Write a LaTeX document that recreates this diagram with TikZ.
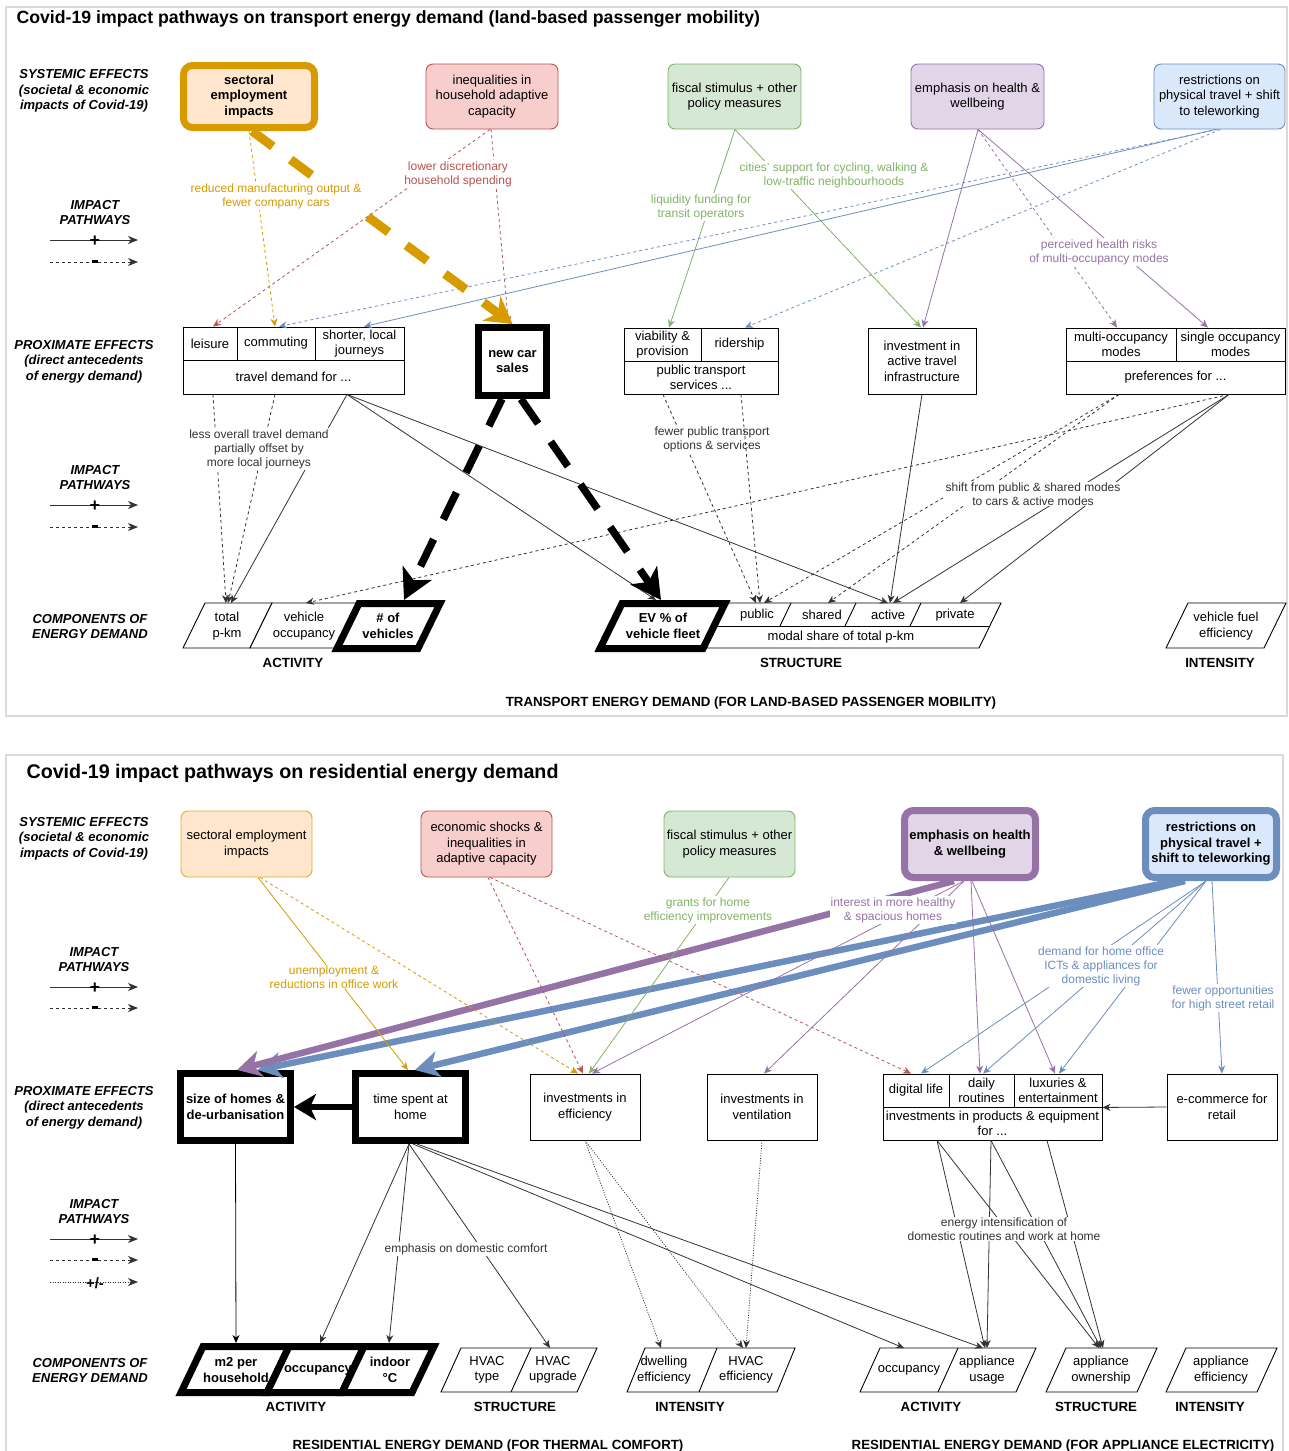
\documentclass[tikz,border=0pt]{standalone}
\usepackage{fontspec}
\setmainfont{Liberation Sans}
\usetikzlibrary{arrows.meta,calc}
\definecolor{orS}{HTML}{D79B00}\definecolor{orF}{HTML}{FFE6CC}
\definecolor{rdS}{HTML}{B85450}\definecolor{rdF}{HTML}{F8CECC}
\definecolor{grS}{HTML}{82B366}\definecolor{grF}{HTML}{D5E8D4}
\definecolor{puS}{HTML}{9673A6}\definecolor{puF}{HTML}{E1D5E7}
\definecolor{blS}{HTML}{6C8EBF}\definecolor{blF}{HTML}{DAE8FC}
\definecolor{panelc}{HTML}{DADADA}
\definecolor{lnk}{HTML}{333333}
\newcommand{\bxf}{\fontsize{13}{15.5}\selectfont}
\newcommand{\bxbf}{\fontsize{13}{15.5}\selectfont\bfseries}
\newcommand{\lbf}{\fontsize{12}{14}\selectfont}
\newcommand{\sidef}{\fontsize{13}{15.5}\selectfont\bfseries\itshape}
\newcommand{\capf}{\fontsize{13.3}{15}\selectfont\bfseries}
\newcommand{\ttlf}{\fontsize{17.7}{20}\selectfont\bfseries}
\newcommand{\ttlbf}{\fontsize{19.7}{22}\selectfont\bfseries}
\newcommand{\BoxAt}[6][]{\node[#1,minimum width={#4-#2},minimum height={#5-#3}] (#6) at ({(#2+#4)/2},{(#3+#5)/2})}
\newcommand{\PG}[6][]{\draw[#1] (#2,#4) -- (#3,#4) -- ({#3-#6},#5) -- ({#2-#6},#5) -- cycle;}
\newcommand{\LegArrow}[4]{%
  \coordinate (#1a) at (50,#2); \coordinate (#1b) at (138,#2);
  \draw[lnk, line width=0.9pt, -{Stealth[length=10pt,width=8pt,inset=3pt]}, #3] (#1a) -- (#1b);
  \node[font=\bfseries\fontsize{18}{18}\selectfont, inner sep=0pt] (#1s) at (95,#2+1) {#4};}
\newcommand{\minusbar}{\rule[3.5pt]{6pt}{3pt}}
\tikzset{
  bx/.style={draw, rectangle, align=center, inner sep=1pt, font=\bxf, line width=0.9pt, fill=white},
  sysb/.style={bx, rounded corners=7pt},
  thk/.style={line width=7pt},
  lbl/.style={font=\lbf, align=center, fill=white, inner sep=1pt},
  txt/.style={font=\bxf, align=center, inner sep=0pt},
  txtb/.style={font=\bxbf, align=center, inner sep=0pt},
  side/.style={font=\sidef, align=center},
  capl/.style={font=\capf},
  pg/.style={line width=0.9pt, fill=white},
  ln/.style={line width=0.8pt, -{Stealth[length=8pt,width=7pt,inset=2.5pt]}},
  dsh/.style={dash pattern=on 3pt off 3pt},
  dtt/.style={dash pattern=on 1pt off 1.5pt},
}
\begin{document}
\begin{tikzpicture}[x=1pt,y=-1pt]
\useasboundingbox (0,0) rectangle (1288,1451);
\fill[white] (0,0) rectangle (1288,1451);
% panels
\draw[panelc, line width=1.5pt] (6,7) rectangle (1287,716);
\draw[panelc, line width=1.5pt] (6,1480) -- (6,755) -- (1283,755) -- (1283,1480);
\node[anchor=west, font=\ttlf] (t1) at (13,19) {Covid-19 impact pathways on transport energy demand (land-based passenger mobility)};
\node[anchor=west, font=\ttlbf] (t2) at (23,773) {Covid-19 impact pathways on residential energy demand};

% ---------- TOP PANEL side labels ----------
\node[side] (s1) at (84,91) {SYSTEMIC EFFECTS\\(societal \& economic\\impacts of Covid-19)};
\node[side] (s2) at (95,212.5) {IMPACT\\PATHWAYS};
\LegArrow{lga}{240}{}{+}
\LegArrow{lgb}{262}{dsh}{\minusbar}
\node[side] (s3) at (84,361.5) {PROXIMATE EFFECTS\\(direct antecedents\\of energy demand)};
\node[side] (s4) at (95,477.5) {IMPACT\\PATHWAYS};
\LegArrow{lgc}{505}{}{+}
\LegArrow{lgd}{527}{dsh}{\minusbar}
\node[side] (s5) at (90,626.5) {COMPONENTS OF\\ENERGY DEMAND};

% ---------- TOP PANEL boxes ----------
\BoxAt[sysb, thk, draw=orS, fill=orF, font=\bxbf, rounded corners=9pt]{183.5}{65.5}{314.5}{127.5}{sect1} {sectoral\\employment\\impacts};
\BoxAt[sysb, draw=rdS, fill=rdF]{426}{64}{558}{129}{ineq1} {inequalities in\\household adaptive\\capacity};
\BoxAt[sysb, draw=grS, fill=grF]{668}{64}{801}{129}{fisc1} {fiscal stimulus + other\\policy measures};
\BoxAt[sysb, draw=puS, fill=puF]{911}{64}{1044}{129}{emph1} {emphasis on health \&\\wellbeing};
\BoxAt[sysb, draw=blS, fill=blF]{1154}{64}{1285}{129}{restr1} {restrictions on\\physical travel + shift\\to teleworking};

\BoxAt[bx]{183}{327}{237}{360}{leis} {leisure};
\BoxAt[bx]{237}{327}{315}{360}{comm} {commuting};
\BoxAt[bx]{315}{327}{404}{360}{short} {shorter, local\\journeys};
\BoxAt[bx]{183}{360}{404}{394}{trav} {travel demand for ...};
\BoxAt[bx, thk, font=\bxbf]{478.5}{327.5}{546.5}{395.5}{newcar} {new car\\sales};
\BoxAt[bx]{624}{328}{701}{361}{via} {viability \&\\provision};
\BoxAt[bx]{701}{328}{778}{361}{rider} {ridership};
\BoxAt[bx]{624}{361}{778}{394}{pts} {public transport\\services ...};
\BoxAt[bx]{868}{328}{976}{394}{inv} {investment in\\active travel\\infrastructure};
\BoxAt[bx]{1066}{328}{1176}{361}{multi} {multi-occupancy\\modes};
\BoxAt[bx]{1176}{328}{1285}{361}{single} {single occupancy\\modes};
\BoxAt[bx]{1066}{361}{1285}{394}{pref} {preferences for ...};

% ---------- TOP PANEL components ----------
\PG[pg]{205}{272}{603}{648}{22}
\PG[pg]{272}{359}{603}{648}{22}
\PG[pg]{725}{1001}{603}{648}{22}
\draw[line width=0.9pt] (714,626) -- (990,626);
\draw[line width=0.9pt] (791,603) -- (780,626);
\draw[line width=0.9pt] (856,603) -- (845,626);
\draw[line width=0.9pt] (921,603) -- (910,626);
\PG[pg, thk]{359}{440}{603.5}{648.5}{22}
\PG[pg, thk]{622}{725}{603.5}{648.5}{22}
\PG[pg]{1188}{1286}{603}{648}{22}
\node[txt] (tpkm) at (227,626) {total\\p-km};
\node[txt] (vocc) at (304,626) {vehicle\\occupancy};
\node[txtb] (nveh) at (388,626) {\# of\\vehicles};
\node[txtb] (evf) at (663,626) {EV \% of\\vehicle fleet};
\node[txt] (pub) at (757,615) {public};
\node[txt] (shr) at (822,615) {shared};
\node[txt] (act) at (888,615) {active};
\node[txt] (priv) at (955,615) {private};
\node[txt] (modal) at (841,637) {modal share of total p-km};
\node[txt] (vfe) at (1226,626) {vehicle fuel\\efficiency};
\node[capl] (c1) at (293,663) {ACTIVITY};
\node[capl] (c2) at (801,663) {STRUCTURE};
\node[capl] (c3) at (1220,663) {INTENSITY};
\node[capl] (c4) at (751,703) {TRANSPORT ENERGY DEMAND (FOR LAND-BASED PASSENGER MOBILITY)};

\coordinate (tpkmA) at (226,603); \coordinate (tpkmB) at (228,603); \coordinate (tpkmC) at (231,603);
\coordinate (voccT) at (306,603);
\coordinate (nvehT) at (404,600);
\coordinate (evA) at (656,600); \coordinate (evB) at (661,600);
\coordinate (pubA) at (756,603); \coordinate (pubB) at (760,603); \coordinate (pubC) at (764,603);
\coordinate (shrT) at (828,603);
\coordinate (actA) at (888,603); \coordinate (actB) at (890,603); \coordinate (actC) at (893,603);
\coordinate (privT) at (960,603);

% ---------- TOP PANEL connectors ----------
\draw[ln, dsh, draw=orS] (sect1.south) -- ([xshift=-1pt]comm.north);
\draw[ln, dsh, draw=rdS] ([xshift=-2pt]ineq1.south) -- ([xshift=3pt]leis.north);
\draw[ln, dsh, draw=rdS] ([xshift=-1pt]ineq1.south) -- ([xshift=-4pt]newcar.north);
\draw[ln, draw=grS] ([xshift=0.5pt]fisc1.south) -- ([xshift=6.5pt]via.north);
\draw[ln, draw=grS] ([xshift=0.5pt]fisc1.south) -- ([xshift=-1pt]inv.north);
\draw[ln, draw=puS] ([xshift=0.5pt]emph1.south) -- ([xshift=1pt]inv.north);
\draw[ln, dsh, draw=puS] ([xshift=0.5pt]emph1.south) -- ([xshift=-4pt]multi.north);
\draw[ln, draw=puS] ([xshift=0.5pt]emph1.south) -- ([xshift=-22.5pt]single.north);
\draw[ln, dsh, draw=blS] ([xshift=-2pt]restr1.south) -- ([xshift=3pt]comm.north);
\draw[ln, draw=blS] ([xshift=-4pt]restr1.south) -- ([xshift=4.5pt]short.north);
\draw[ln, dsh, draw=blS] ([xshift=1pt]restr1.south) -- ([xshift=5.5pt]rider.north);
\draw[draw=orS, line width=9pt, dash pattern=on 26pt off 22pt, -{Stealth[length=26pt,width=30pt,inset=8pt]}] ([xshift=3pt]sect1.south) -- (newcar.north);

\draw[ln, dsh, lnk] ([xshift=-80.5pt]trav.south) -- (tpkmA);
\draw[ln, dsh, lnk] ([xshift=-18.5pt]trav.south) -- (tpkmB);
\draw[ln, lnk] ([xshift=53.5pt]trav.south) -- (tpkmC);
\draw[ln, lnk] ([xshift=53.5pt]trav.south) -- (actA);
\draw[ln, lnk] ([xshift=53.5pt]trav.south) -- (evA);
\draw[ln, dsh, lnk] ([xshift=-38pt]pts.south) -- (pubA);
\draw[ln, lnk] (inv.south) -- (actB);
\draw[ln, dsh, lnk] ([xshift=-56.5pt]pref.south) -- (pubC);
\draw[ln, dsh, lnk] ([xshift=-56.5pt]pref.south) -- (shrT);
\draw[ln, lnk] ([xshift=53.5pt]pref.south) -- (actC);
\draw[ln, lnk] ([xshift=53.5pt]pref.south) -- (privT);
\draw[ln, dsh, lnk] ([xshift=53.5pt]pref.south) -- (voccT);
\draw[black, line width=7.5pt, dash pattern=on 30pt off 22pt, -{Stealth[length=30pt,width=32pt,inset=8pt]}] ([xshift=-10.5pt]newcar.south) -- (nvehT);
\draw[black, line width=7.5pt, dash pattern=on 30pt off 22pt, -{Stealth[length=30pt,width=32pt,inset=8pt]}] ([xshift=8.5pt]newcar.south) -- (evB);

% labels top
\node[lbl, text=orS] (L1) at (276,196) {reduced manufacturing output \&\\fewer company cars};
\node[lbl, text=rdS] (L2) at (458,174) {lower discretionary\\household spending};
\node[lbl, text=grS] (L3) at (701,207) {liquidity funding for\\transit operators};
\node[lbl, text=grS] (L4) at (834,175) {cities' support for cycling, walking \&\\low-traffic neighbourhoods};
\node[lbl, text=puS] (L5) at (1099,252) {perceived health risks\\of multi-occupancy modes};
\node[lbl, text=lnk] (L6) at (259,449) {less overall travel demand\\partially offset by\\more local journeys};
\node[lbl, text=lnk] (L7) at (712,439) {fewer public transport\\options \& services};
\node[lbl, text=lnk] (L8) at (1033,494) {shift from public \& shared modes\\to cars \& active modes};
\draw[ln, dsh, lnk] ([xshift=40pt]pts.south) -- (pubB);

% ---------- BOTTOM PANEL side labels ----------
\node[side] (s6) at (84,838.5) {SYSTEMIC EFFECTS\\(societal \& economic\\impacts of Covid-19)};
\node[side] (s7) at (94,959.5) {IMPACT\\PATHWAYS};
\LegArrow{lge}{987}{}{+}
\LegArrow{lgf}{1008}{dsh}{\minusbar}
\node[side] (s8) at (84,1107.5) {PROXIMATE EFFECTS\\(direct antecedents\\of energy demand)};
\node[side] (s9) at (94,1211.5) {IMPACT\\PATHWAYS};
\LegArrow{lgg}{1239}{}{+}
\LegArrow{lgh}{1260}{dsh}{\minusbar}
\LegArrow{lgi}{1282}{dtt}{\fontsize{15}{15}\selectfont +/-}
\node[side] (s10) at (90,1370.5) {COMPONENTS OF\\ENERGY DEMAND};

% ---------- BOTTOM PANEL boxes ----------
\BoxAt[sysb, draw=orS!80, fill=orF]{181}{811}{312}{877}{sect2} {sectoral employment\\impacts};
\BoxAt[sysb, draw=rdS, fill=rdF]{421}{811}{552}{877}{econ} {economic shocks \&\\inequalities in\\adaptive capacity};
\BoxAt[sysb, draw=grS, fill=grF]{664}{811}{795}{877}{fisc2} {fiscal stimulus + other\\policy measures};
\BoxAt[sysb, thk, draw=puS, fill=puF, font=\bxbf, rounded corners=9pt]{904.5}{810.5}{1035.5}{877.5}{emph2} {emphasis on health\\\& wellbeing};
\BoxAt[sysb, thk, draw=blS, fill=blF, font=\bxbf, rounded corners=9pt]{1145.5}{810.5}{1276.5}{877.5}{restr2} {restrictions on\\physical travel +\\shift to teleworking};

\BoxAt[bx, thk, font=\bxbf]{180.5}{1073.5}{290.5}{1140.5}{size} {size of homes \&\\de-urbanisation};
\BoxAt[bx, thk]{355.5}{1073.5}{465.5}{1140.5}{time} {time spent at\\home};
\BoxAt[bx]{530}{1074}{640}{1140}{eff} {investments in\\efficiency};
\BoxAt[bx]{707}{1074}{817}{1140}{vent} {investments in\\ventilation};
\BoxAt[bx]{883}{1074}{949}{1107}{dig} {digital life};
\BoxAt[bx]{949}{1074}{1014}{1107}{daily} {daily\\routines};
\BoxAt[bx]{1014}{1074}{1102}{1107}{lux} {luxuries \&\\entertainment};
\BoxAt[bx]{883}{1107}{1102}{1140}{prod} {investments in products \& equipment\\for ...};
\BoxAt[bx]{1167}{1074}{1277}{1140}{ecom} {e-commerce for\\retail};

% ---------- BOTTOM PANEL components ----------
\PG[pg, thk]{203}{289}{1346.5}{1392.5}{22}
\PG[pg, thk]{289}{364}{1346.5}{1392.5}{22}
\PG[pg, thk]{364}{434}{1346.5}{1392.5}{22}
\PG[pg]{461}{597}{1348}{1392}{20}
\draw[line width=0.9pt] (531,1348) -- (511,1392);
\PG[pg]{645}{795}{1348}{1392}{18}
\draw[line width=0.9pt] (717,1348) -- (699,1392);
\PG[pg]{880}{1036}{1348}{1392}{20}
\draw[line width=0.9pt] (958,1348) -- (938,1392);
\PG[pg]{1066}{1157}{1348}{1392}{20}
\PG[pg]{1186}{1277}{1348}{1392}{20}
\node[txtb] (m2) at (236,1370) {m2 per\\household};
\node[txtb] (occ1) at (318,1370) {occupancy};
\node[txtb] (indoor) at (390,1370) {indoor\\°C};
\node[txt] (hvt) at (487,1370) {HVAC\\type};
\node[txt] (hvu) at (553,1370) {HVAC\\upgrade};
\node[txt] (dwe) at (664,1370) {dwelling\\efficiency};
\node[txt] (hve) at (746,1370) {HVAC\\efficiency};
\node[txt] (occ2) at (909,1370) {occupancy};
\node[txt] (aus) at (987,1370) {appliance\\usage};
\node[txt] (aow) at (1101,1370) {appliance\\ownership};
\node[txt] (aef) at (1221,1370) {appliance\\efficiency};
\node[capl] (c5) at (296,1407) {ACTIVITY};
\node[capl] (c6) at (515,1407) {STRUCTURE};
\node[capl] (c7) at (690,1407) {INTENSITY};
\node[capl] (c8) at (931,1407) {ACTIVITY};
\node[capl] (c9) at (1096,1407) {STRUCTURE};
\node[capl] (c10) at (1210,1407) {INTENSITY};
\node[capl] (c11) at (488,1446) {RESIDENTIAL ENERGY DEMAND (FOR THERMAL COMFORT)};
\node[capl] (c12) at (1063,1446) {RESIDENTIAL ENERGY DEMAND (FOR APPLIANCE ELECTRICITY)};

\coordinate (m2T) at (236,1343); \coordinate (occT) at (320,1343); \coordinate (indT) at (389,1343);
\coordinate (hupT) at (550,1348); \coordinate (dwT) at (661,1348);
\coordinate (heA) at (743,1348); \coordinate (heB) at (746,1348);
\coordinate (occ2T) at (904,1348);
\coordinate (usA) at (983,1348); \coordinate (usB) at (985,1348); \coordinate (usC) at (987,1348);
\coordinate (owA) at (1099,1348); \coordinate (owB) at (1101,1348); \coordinate (owC) at (1103,1348);

% ---------- BOTTOM PANEL connectors ----------
\draw[draw=blS, line width=6.5pt, -{Stealth[length=24pt,width=26pt,inset=7pt]}] ([xshift=-36pt]restr2.south) -- ([xshift=22pt]size.north);
\draw[draw=blS, line width=6.5pt, -{Stealth[length=24pt,width=26pt,inset=7pt]}] ([xshift=-26pt]restr2.south) -- ([xshift=4.5pt]time.north);
\draw[draw=puS, line width=6.5pt, -{Stealth[length=24pt,width=26pt,inset=7pt]}] ([xshift=-16pt]emph2.south) -- ([xshift=1.5pt]size.north);
\draw[ln, draw=orS] ([xshift=11.5pt]sect2.south) -- ([xshift=-2.5pt]time.north);
\draw[ln, dsh, draw=orS] ([xshift=13.5pt]sect2.south) -- ([xshift=-7pt]eff.north);
\draw[ln, dsh, draw=rdS] ([xshift=1.5pt]econ.south) -- ([xshift=-2pt]eff.north);
\draw[ln, dsh, draw=rdS] ([xshift=3.5pt]econ.south) -- ([xshift=-5pt]dig.north);
\draw[ln, draw=grS] ([xshift=-0.5pt]fisc2.south) -- ([xshift=4pt]eff.north);
\draw[ln, draw=puS] ([xshift=-6pt]emph2.south) -- ([xshift=7pt]eff.north);
\draw[ln, draw=puS] ([xshift=-6pt]emph2.south) -- ([xshift=2pt]vent.north);
\draw[ln, draw=puS] ([xshift=1pt]emph2.south) -- ([xshift=-1.5pt]daily.north);
\draw[ln, draw=puS] ([xshift=2pt]emph2.south) -- ([xshift=-3pt]lux.north);
\draw[ln, draw=blS] ([xshift=-5pt]restr2.south) -- ([xshift=5pt]dig.north);
\draw[ln, draw=blS] ([xshift=-5pt]restr2.south) -- ([xshift=1.5pt]daily.north);
\draw[ln, draw=blS] ([xshift=-5pt]restr2.south) -- ([xshift=1pt]lux.north);
\draw[ln, draw=blS] ([xshift=1pt]restr2.south) -- (ecom.north);
\draw[line width=6pt, -{Stealth[length=22pt,width=26pt,inset=6pt]}] (time.west) -- (size.east);
\draw[ln, lnk] (ecom.west) -- (lux.south east);

\draw[ln, black] (size.south) -- (m2T);
\draw[ln, lnk] ([xshift=-1.5pt]time.south) -- (occT);
\draw[ln, lnk] ([xshift=-1.5pt]time.south) -- (indT);
\draw[ln, lnk] ([xshift=-1.5pt]time.south) -- (hupT);
\draw[ln, lnk] ([xshift=2.5pt]time.south) -- (occ2T);
\draw[ln, lnk] ([xshift=6.5pt]time.south) -- (usA);
\draw[ln, dtt, lnk] (eff.south) -- (dwT);
\draw[ln, dtt, lnk] (eff.south) -- (heA);
\draw[ln, dtt, lnk] (vent.south) -- (heB);
\draw[ln, lnk] ([xshift=-55.5pt]prod.south) -- (usB);
\draw[ln, lnk] ([xshift=-55.5pt]prod.south) -- (owA);
\draw[ln, lnk] ([xshift=-1.5pt]prod.south) -- (usC);
\draw[ln, lnk] ([xshift=-1.5pt]prod.south) -- (owB);
\draw[ln, lnk] ([xshift=54.5pt]prod.south) -- (owC);

% labels bottom
\node[lbl, text=orS] (L9) at (334,977) {unemployment \&\\reductions in office work};
\node[lbl, text=grS] (L10) at (708,910) {grants for home\\efficiency improvements};
\node[lbl, text=puS] (L11) at (893,910) {interest in more healthy\\\& spacious homes};
\node[lbl, text=blS] (L12) at (1101,966) {demand for home office\\ICTs \& appliances for\\domestic living};
\node[lbl, text=blS] (L13) at (1223,998) {fewer opportunities\\for high street retail};
\node[lbl, text=lnk] (L14) at (466,1249) {emphasis on domestic comfort};
\node[lbl, text=lnk] (L15) at (1004,1229) {energy intensification of\\domestic routines and work at home};
\end{tikzpicture}
\end{document}
